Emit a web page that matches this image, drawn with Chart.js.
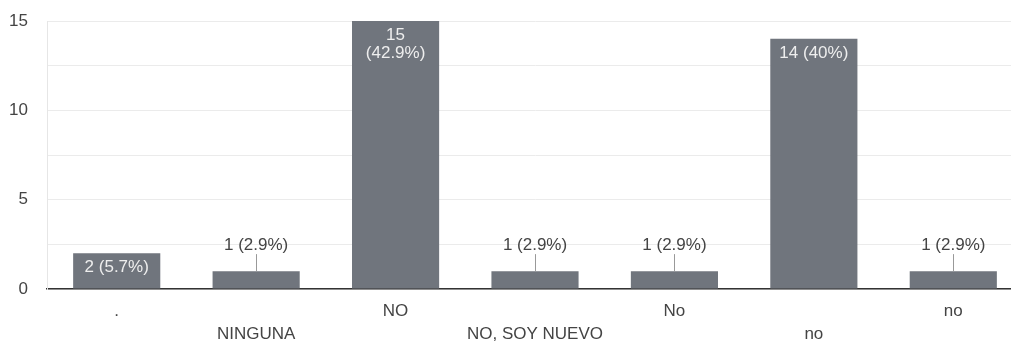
<!DOCTYPE html>
<html>
<head>
<meta charset="utf-8">
<script src="https://cdn.jsdelivr.net/npm/chart.js@4/dist/chart.umd.min.js"></script>
<style>
html,body{margin:0;padding:0;background:#fff;overflow:hidden;width:1011px;height:342px;}
#wrap{position:relative;width:1023px;height:342px;}
</style>
</head>
<body>
<div id="wrap"><canvas id="c"></canvas></div>
<script>
const categories = [".", "NINGUNA", "NO", "NO, SOY NUEVO", "No", "no", "no"];
const counts = [2, 1, 15, 1, 1, 14, 1];
const yTickLabels = [0, 5, 10, 15];

const total = counts.reduce((a, b) => a + b, 0);
const FONT = "'Liberation Sans', Arial, sans-serif";
const FS = 17;

const labelPlugin = {
  id: 'valueLabels',
  afterDatasetsDraw(chart) {
    const ctx = chart.ctx;
    const meta = chart.getDatasetMeta(0);
    ctx.save();
    ctx.font = FS + "px " + FONT;
    ctx.textAlign = 'center';
    ctx.textBaseline = 'middle';
    meta.data.forEach((bar, i) => {
      const v = counts[i];
      const pct = Math.round(v / total * 1000) / 10;
      const num = String(v);
      const p = '(' + pct + '%)';
      const full = num + ' ' + p;
      const w = bar.width;
      if (v >= 2) {
        ctx.fillStyle = '#eeeeee';
        if (ctx.measureText(full).width + 8 > w) {
          ctx.fillText(num, bar.x, bar.y + 14);
          ctx.fillText(p, bar.x, bar.y + 32);
        } else {
          ctx.fillText(full, bar.x, bar.y + 14);
        }
      } else {
        ctx.strokeStyle = '#999999';
        ctx.lineWidth = 1;
        ctx.beginPath();
        ctx.moveTo(Math.round(bar.x) + 0.5, bar.y);
        ctx.lineTo(Math.round(bar.x) + 0.5, bar.y - 17);
        ctx.stroke();
        ctx.fillStyle = '#444444';
        ctx.fillText(full, bar.x, bar.y - 26);
      }
    });
    ctx.restore();
  }
};

new Chart(document.getElementById('c'), {
  type: 'bar',
  data: {
    labels: categories,
    datasets: [{
      data: counts,
      backgroundColor: '#70757d',
      borderWidth: 0,
      barPercentage: 0.625,
      categoryPercentage: 1.0
    }]
  },
  options: {
    responsive: true,
    maintainAspectRatio: false,
    animation: false,
    layout: { padding: { top: 21, right: 0, left: 0, bottom: 0 } },
    plugins: { legend: { display: false }, tooltip: { enabled: false } },
    scales: {
      x: {
        grid: { display: false },
        border: { display: true, color: '#333333', width: 1.5 },
        afterFit: function(scale) { scale.height = 53; scale.paddingLeft = 0; scale.paddingRight = 0; },
        ticks: {
          color: '#444444',
          font: { family: FONT, size: FS, lineHeight: 1.35 },
          padding: 2.5,
          maxRotation: 0,
          autoSkip: false,
          callback: function(val, idx) {
            const l = categories[idx];
            return idx % 2 === 0 ? [l, ''] : ['', l];
          }
        }
      },
      y: {
        min: 0,
        max: 15,
        afterFit: function(scale) { scale.width = 47; scale.paddingTop = 0; scale.paddingBottom = 0; },
        afterBuildTicks: function(scale) {
          const t = [];
          for (let v = 0; v <= 15; v += 2.5) t.push({ value: v });
          scale.ticks = t;
        },
        grid: { color: '#ebebeb', lineWidth: 1, drawTicks: false },
        border: { display: true, color: '#e6e6e6', width: 1 },
        ticks: {
          color: '#444444',
          font: { family: FONT, size: FS },
          padding: 19,
          callback: function(v) { return yTickLabels.includes(v) ? String(v) : ''; }
        }
      }
    }
  },
  plugins: [labelPlugin]
});
</script>
</body>
</html>
